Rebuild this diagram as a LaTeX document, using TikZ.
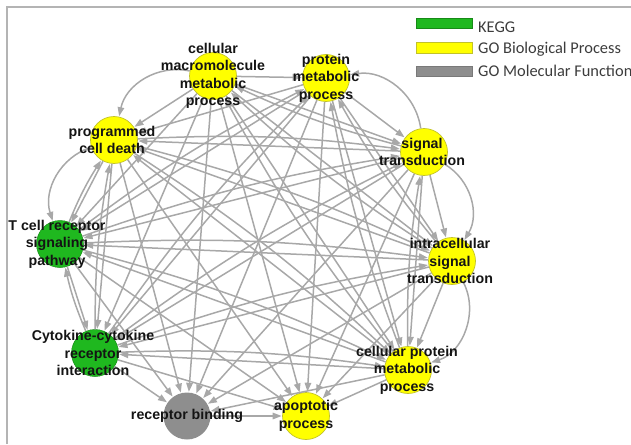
\documentclass[tikz,border=0pt]{standalone}
\usepackage{fontspec}
\usetikzlibrary{arrows.meta}
\newfontfamily\lblfont{Liberation Sans}
\newfontfamily\legfont{Carlito}
\definecolor{edgegray}{HTML}{A8A8A8}
\definecolor{keggreen}{HTML}{1FB81F}
\definecolor{keggline}{HTML}{178A17}
\definecolor{bioyellow}{HTML}{FFFF00}
\definecolor{bioline}{HTML}{C2C22A}
\definecolor{molgray}{HTML}{8E8E8E}
\definecolor{txtdark}{HTML}{141414}
\definecolor{legtxt}{HTML}{3C3C3C}
\definecolor{framegray}{HTML}{B4B4B4}
\tikzset{
  term/.style={circle, minimum size=47pt, inner sep=0pt},
  kegg/.style={term, fill=keggreen, draw=keggline, line width=0.5pt},
  bio/.style={term, fill=bioyellow, draw=bioline, line width=0.7pt},
  mol/.style={term, fill=molgray},
  lbl/.style={align=center, text=txtdark, inner sep=0pt,
    font=\lblfont\bfseries\fontsize{14.2}{17.5}\selectfont},
  edge/.style={draw=edgegray, line width=1.5pt,
    -{Triangle[length=9pt,width=6.5pt]}, shorten >=0.5pt},
  legbox/.style={minimum width=56pt, minimum height=10.5pt, inner sep=0pt, line width=0.8pt},
  legtext/.style={anchor=base west, inner sep=0pt, text=legtxt,
    font=\legfont\fontsize{16.4}{19}\selectfont}
}
\begin{document}
\begin{tikzpicture}[x=1pt,y=-1pt]
\useasboundingbox (0,0) rectangle (631,444);
% frame
\draw[framegray, line width=1.2pt] (7,444) -- (7,7) -- (631,7);

% terms
\node[bio]  (cmm)  at (213,76)  {};
\node[bio]  (pmp)  at (326,78)  {};
\node[bio]  (st)   at (424,152) {};
\node[bio]  (ist)  at (452,261) {};
\node[bio]  (cpmp) at (408,370) {};
\node[bio]  (ap)   at (306,416) {};
\node[mol]  (rb)   at (187,416) {};
\node[kegg] (cci)  at (95,353)  {};
\node[kegg] (tcr)  at (60,244)  {};
\node[bio]  (pcd)  at (114,140) {};

% straight links
\foreach \a/\b in {
  cmm/pmp, cmm/st, cmm/ist, cmm/cpmp, cmm/ap, cmm/rb, cmm/cci, cmm/tcr, cmm/pcd,
  pmp/st, pmp/ist, pmp/cpmp, pmp/ap, pmp/rb, pmp/cci, pmp/tcr, pmp/pcd,
  st/ist, st/cpmp, st/ap, st/rb, st/cci, st/tcr, st/pcd,
  ist/cpmp, ist/ap, ist/rb, ist/cci, ist/tcr, ist/pcd,
  cpmp/ap, cpmp/rb, cpmp/cci, cpmp/tcr, cpmp/pcd,
  rb/ap, cci/ap, tcr/ap, pcd/ap,
  cci/rb, tcr/rb, pcd/rb,
  tcr/cci, pcd/cci, pcd/tcr}
  \draw[edge] (\a) -- (\b);

% reverse links, slightly bent
\foreach \a/\b in {
  st/cmm, ist/cmm, cpmp/cmm,
  ist/pmp, cpmp/pmp, tcr/pmp, cci/pmp,
  cpmp/st, tcr/st, cci/st, pcd/st,
  tcr/ist, cci/ist, pcd/ist,
  tcr/cpmp, cci/cpmp, pcd/cpmp,
  tcr/pcd, cci/pcd, cci/tcr}
  \draw[edge] (\a) to[bend left=5] (\b);

% outer arcs between neighbours
\draw[edge] (cmm) to[bend right=45] (pcd);
\draw[edge] (pcd) to[bend right=45] (tcr);
\draw[edge] (st)  to[bend right=45] (pmp);
\draw[edge] (st)  to[bend left=45]  (ist);
\draw[edge] (ist) to[bend left=50]  (cpmp);

% labels
\node[lbl] (cmm-t)  at (213,76)  {cellular\\macromolecule\\metabolic\\process};
\node[lbl] (pmp-t)  at (326,78)  {protein\\metabolic\\process};
\node[lbl] (st-t)   at (422,152) {signal\\transduction};
\node[lbl] (ist-t)  at (450,261) {intracellular\\signal\\transduction};
\node[lbl] (cpmp-t) at (407,370) {cellular protein\\metabolic\\process};
\node[lbl] (ap-t)   at (306,416) {apoptotic\\process};
\node[lbl] (rb-t)   at (187,416) {receptor binding};
\node[lbl] (cci-t)  at (93,353)  {Cytokine-cytokine\\receptor\\interaction};
\node[lbl] (tcr-t)  at (57,244)  {T cell receptor\\signaling\\pathway};
\node[lbl] (pcd-t)  at (112,140) {programmed\\cell death};

% legend
\node[legbox, fill=keggreen, draw=keggline]   (lg1) at (444,23.5) {};
\node[legbox, fill=bioyellow, draw=bioline]   (lg2) at (444,48)   {};
\node[legbox, fill=molgray, draw=molgray!85!black] (lg3) at (444,71.5) {};
\node[legtext] (lt1) at (478,33) {KEGG};
\node[legtext] (lt2) at (478,54) {GO Biological Process};
\node[legtext] (lt3) at (478,76) {GO Molecular Function};
\end{tikzpicture}
\end{document}
